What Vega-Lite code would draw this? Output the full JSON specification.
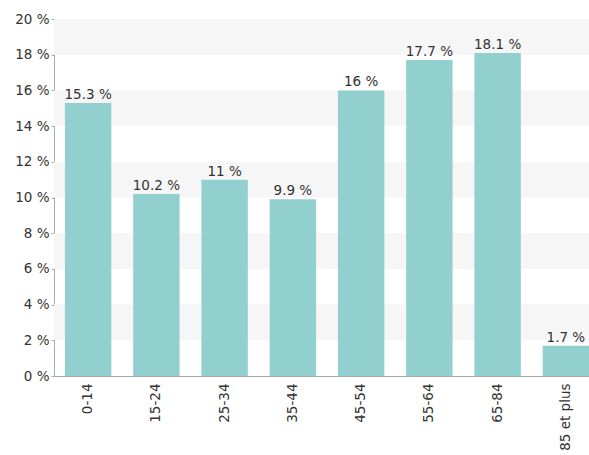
{
  "$schema": "https://vega.github.io/schema/vega-lite/v6.json",
  "autosize": {"type": "none"},
  "padding": {"left": 54, "top": 19, "right": 0, "bottom": 79},
  "width": 546,
  "height": 357,
  "background": "white",
  "config": {
    "view": {"stroke": null},
    "font": "DejaVu Sans",
    "axisY": {
      "values": [0, 2, 4, 6, 8, 10, 12, 14, 16, 18, 20],
      "labelExpr": "datum.value + ' %'", "grid": false, "tickSize": 3,
      "tickColor": "#aaaaaa", "domainColor": "#aaaaaa", "labelPadding": 2,
      "labelFontSize": 13.5, "labelColor": "#333333", "labelFont": "DejaVu Sans",
      "labelOverlap": false, "labelBound": false, "labelFlush": false, "title": null
    }
  },
  "datasets": {
    "bars": [
      {"age": "0-14", "value": 15.3},
      {"age": "15-24", "value": 10.2},
      {"age": "25-34", "value": 11},
      {"age": "35-44", "value": 9.9},
      {"age": "45-54", "value": 16},
      {"age": "55-64", "value": 17.7},
      {"age": "65-84", "value": 18.1},
      {"age": "85 et plus", "value": 1.7}
    ],
    "stripes": [
      {"lo": 2, "hi": 4},
      {"lo": 6, "hi": 8},
      {"lo": 10, "hi": 12},
      {"lo": 14, "hi": 16},
      {"lo": 18, "hi": 20}
    ]
  },
  "layer": [
    {
      "data": {"name": "stripes"},
      "mark": {"type": "rect", "color": "#f6f6f6"},
      "encoding": {
        "y": {"field": "lo", "type": "quantitative", "scale": {"domain": [0, 20], "nice": false}, "axis": {"title": null}},
        "y2": {"field": "hi"}
      }
    },
    {
      "data": {"name": "bars"},
      "transform": [{"calculate": "datum.value + ' %'", "as": "label"}],
      "encoding": {
        "x": {
          "field": "age", "type": "nominal", "sort": null,
          "scale": {"paddingInner": 0.32, "paddingOuter": 0.16},
          "axis": {
            "title": null, "labelAngle": -90, "labelAlign": "right", "labelBaseline": "middle",
            "ticks": false, "labelPadding": 7, "labelFontSize": 13.5, "labelColor": "#333333",
            "domainColor": "#aaaaaa", "labelFont": "DejaVu Sans", "labelOverlap": false, "labelBound": false
          }
        },
        "y": {
          "field": "value", "type": "quantitative",
          "scale": {"domain": [0, 20], "nice": false},
          "axis": {"title": null}
        }
      },
      "layer": [
        {"mark": {"type": "bar", "color": "#92cfcf"}},
        {
          "mark": {"type": "text", "baseline": "bottom", "dy": -1, "fontSize": 13.5, "color": "#333333", "font": "DejaVu Sans"},
          "encoding": {"text": {"field": "label"}}
        }
      ]
    }
  ]
}
